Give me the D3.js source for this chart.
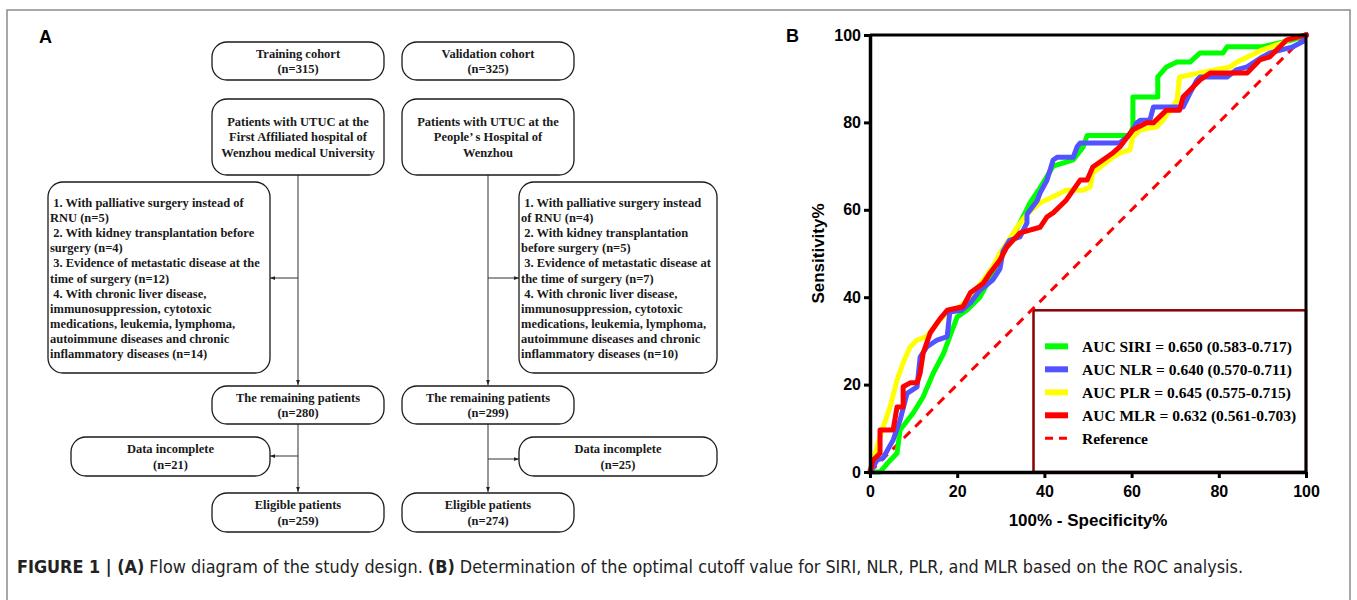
<!DOCTYPE html>
<html>
<head>
<meta charset="utf-8">
<script src="https://cdn.jsdelivr.net/npm/d3@7"></script>
<style>
  body { margin: 0; background: #fff; }
  .flow { font-family: "Liberation Serif", "Times New Roman", serif; font-weight: bold; font-size: 12.5px; fill: #1a1a1a; white-space: pre; }
  .tick text { font-family: "Liberation Sans", Arial, sans-serif; font-weight: bold; font-size: 16px; fill: #000; }
</style>
</head>
<body>
<svg id="fig" width="1357" height="600"></svg>
<script>
// ROC curve points, [100% - specificity, sensitivity]
const siriPoints = [[0,0],[2.3,0],[4,2],[6.2,4.3],[6.9,9.6],[9.9,13.5],[12.2,17.2],[14.5,22.6],[16.8,27],[18.3,31],[20,35.5],[22.2,37],[25.2,40],[28.2,45.5],[29.8,50],[32,53],[34.4,57],[36.7,61.6],[39,65],[42,70],[46.6,71.4],[48.9,74.4],[49.8,77],[59.6,77],[60.3,79],[60.3,85.8],[66,85.8],[66,90.4],[68,92.7],[70.4,93.8],[73.4,93.8],[75.7,95.9],[81,95.9],[81.9,97.3],[90,97.3],[97,98.9],[100,100]];
const nlrPoints = [[0,0],[1.6,2.7],[3,3.2],[5.3,7.3],[6.9,11.9],[8.5,18],[10.8,19.5],[11.5,26.3],[13,28.6],[15.4,30.2],[17.7,31],[18.3,36.6],[21,37],[23,38.7],[25.2,41.6],[28.2,44],[29.8,46.5],[30.5,50.5],[32,53],[34.4,53.8],[36,57],[36,59],[38.3,62],[39,63.8],[40.6,66.8],[42,71.4],[42.9,72],[46.6,72],[47.5,74.4],[48.2,75.3],[57.3,75.3],[59,76.7],[60.3,78.3],[61.2,79.9],[62,80.5],[64.2,80.5],[65,83.5],[71.8,83.5],[73.4,86.7],[75,89.7],[75.7,90.4],[81.9,90.4],[84,92],[86.5,92.7],[90,95],[91.7,95.9],[97,97.3],[99.3,98.5],[100,100]];
const plrPoints = [[0,0],[1.6,5.7],[3,10.3],[4.6,14.9],[6.2,21],[7.6,25],[9.2,28.6],[10.8,30.2],[13,31],[15.4,34],[17.7,36.6],[20.6,37.8],[23,40],[26,44],[28.2,47],[29.8,50],[31.4,52.4],[33.7,56],[36,59],[39,61.6],[42,63],[45,64.5],[48.9,64.5],[50.5,65.2],[51.1,68.4],[52.8,69.8],[55.7,72],[57.3,73],[59.6,73.7],[60.3,76.7],[62,78.3],[65.8,79],[67.2,80.5],[68.8,82.8],[70.4,85],[71,90.4],[73,90.8],[82.6,92.7],[84.2,93.8],[90,96.6],[94.7,98.2],[97,99.5],[100,100]];
const mlrPoints = [[0,0],[0.7,2.7],[2.3,4.3],[2.3,9.6],[5.3,9.6],[6.2,14.9],[7.6,14.9],[7.6,19.5],[9.2,20.4],[10.8,20.4],[11.5,22.6],[12.2,27.2],[13.8,31.8],[16,35],[17.7,37],[21.3,37.8],[23,41],[26,43.2],[27.5,45.5],[29.8,48.5],[31.4,51.5],[32.8,53],[34.4,54.7],[39,56],[40.6,58.4],[42,59.3],[45,62.2],[48.2,66.8],[49.8,66.8],[51.1,69.8],[55.7,73],[57.3,74.4],[60.3,78.3],[63.5,79.9],[65,79.9],[68,82.8],[71,82.8],[71.8,85.8],[73.4,87.4],[75.7,89.7],[78,91.3],[86.5,91.3],[89.4,94.3],[91.7,95],[95.6,98.9],[98,99.5],[100,100]];
const referencePoints = [[0,0],[100,100]];

const legendLabels = ["AUC SIRI = 0.650 (0.583-0.717)", "AUC NLR = 0.640 (0.570-0.711)",
    "AUC PLR = 0.645 (0.575-0.715)", "AUC MLR = 0.632 (0.561-0.703)", "Reference"];
const tickValues = [0, 20, 40, 60, 80, 100];

// Flow diagram texts
const trainingTexts = {
    cohort: ["Training cohort", "(n=315)"],
    source: ["Patients with UTUC at the", "First Affiliated hospital of", "Wenzhou medical University"],
    excluded: [" 1. With palliative surgery instead of", "RNU (n=5)", " 2. With kidney transplantation before",
        "surgery (n=4)", " 3. Evidence of metastatic disease at the", "time of surgery (n=12)",
        " 4. With chronic liver disease,", "immunosuppression, cytotoxic", "medications, leukemia, lymphoma,",
        "autoimmune diseases and chronic", "inflammatory diseases (n=14)"],
    remaining: ["The remaining patients", "(n=280)"],
    incomplete: ["Data incomplete", "(n=21)"],
    eligible: ["Eligible patients", "(n=259)"]
};
const validationTexts = {
    cohort: ["Validation cohort", "(n=325)"],
    source: ["Patients with UTUC at the", "People’ s Hospital of", "Wenzhou"],
    excluded: [" 1. With palliative surgery instead", "of RNU (n=4)", " 2. With kidney transplantation",
        "before surgery (n=5)", " 3. Evidence of metastatic disease at", "the time of surgery (n=7)",
        " 4. With chronic liver disease,", "immunosuppression, cytotoxic", "medications, leukemia, lymphoma,",
        "autoimmune diseases and chronic", "inflammatory diseases (n=10)"],
    remaining: ["The remaining patients", "(n=299)"],
    incomplete: ["Data incomplete", "(n=25)"],
    eligible: ["Eligible patients", "(n=274)"]
};

const svg = d3.select('#fig');
svg.append('rect').attr('width', 1357).attr('height', 600).attr('fill', '#fff');

// outer frame
svg.append('path')
    .attr('d', 'M7,602 L7,10 L1350,10 L1350,602')
    .attr('fill', 'none').attr('stroke', '#8c8c8c').attr('stroke-width', 1.5);

const sans = '"Liberation Sans", Arial, sans-serif';
svg.append('text').attr('x', 39).attr('y', 43).text('A')
    .style('font-family', sans).style('font-weight', 'bold').style('font-size', '18px');
svg.append('text').attr('x', 786).attr('y', 42).text('B')
    .style('font-family', sans).style('font-weight', 'bold').style('font-size', '18px');

// ---------- Panel A: flow diagram ----------
svg.append('defs').append('marker')
    .attr('id', 'arrow').attr('viewBox', '0 0 8 8').attr('refX', 8).attr('refY', 4)
    .attr('markerWidth', 5).attr('markerHeight', 5).attr('orient', 'auto')
    .append('path').attr('d', 'M0,1 L8,4 L0,7 Z').attr('fill', '#222');

const flow = svg.append('g');

function box(x, y, w, h, lines, align) {
    flow.append('rect')
        .attr('x', x).attr('y', y).attr('width', w).attr('height', h)
        .attr('rx', 15).attr('ry', 15)
        .attr('fill', '#fff').attr('stroke', '#1a1a1a').attr('stroke-width', 1.3);
    const lh = align === 'left' ? 15.1 : 15.5;
    const t = flow.append('text').attr('class', 'flow');
    if (align === 'left') {
        lines.forEach((l, i) => {
            t.append('tspan').attr('x', x + 2).attr('y', y + 25 + i * lh).text(l);
        });
    } else {
        const y0 = y + h / 2 - (lines.length - 1) * lh / 2 + 4.3;
        t.attr('text-anchor', 'middle');
        lines.forEach((l, i) => {
            t.append('tspan').attr('x', x + w / 2).attr('y', y0 + i * lh).text(l);
        });
    }
}

function link(x1, y1, x2, y2, arrow) {
    const ln = flow.append('line')
        .attr('x1', x1).attr('y1', y1).attr('x2', x2).attr('y2', y2)
        .attr('stroke', '#333').attr('stroke-width', 1);
    if (arrow) ln.attr('marker-end', 'url(#arrow)');
}

function column(texts, cx, exclX, exclW, incX, incW, side) {
    const bx = cx - 86, bw = 172;
    const dir = side === 'left' ? exclX + exclW : exclX;
    link(cx, 175, cx, 385, true);
    link(cx, 278, dir, 278, true);
    link(cx, 424, cx, 492, true);
    const incY = side === 'left' ? 456 : 459;
    link(cx, incY, side === 'left' ? incX + incW : incX, incY, true);
    box(bx, 42, bw, 38, texts.cohort);
    box(bx, 99, bw, 76, texts.source);
    box(exclX, 182, exclW, 191, texts.excluded, 'left');
    box(bx, 386, bw, 38, texts.remaining);
    box(incX, 437, incW, 39, texts.incomplete);
    box(bx, 493, bw, 39, texts.eligible);
}

column(trainingTexts, 298, 48, 222, 71, 199, 'left');
column(validationTexts, 488, 519, 198, 519, 198, 'right');

// ---------- Panel B: ROC curves ----------
const x = d3.scaleLinear().domain([0, 100]).range([870, 1306]);
const y = d3.scaleLinear().domain([0, 100]).range([472, 35]);

const plot = svg.append('g');
const line = d3.line().x(d => x(d[0])).y(d => y(d[1]));

// legend frame
plot.append('rect')
    .attr('x', x(37.5)).attr('y', y(37))
    .attr('width', x(100) - x(37.5)).attr('height', y(0) - y(37))
    .attr('fill', 'none').attr('stroke', '#8b0000').attr('stroke-width', 2.5);

plot.append('path').datum(referencePoints)
    .attr('d', line).attr('fill', 'none')
    .attr('stroke', '#ff0000').attr('stroke-width', 3).attr('stroke-dasharray', '9,7');

const series = [
    { pts: siriPoints, color: '#00ff00' },
    { pts: plrPoints, color: '#ffff00' },
    { pts: nlrPoints, color: '#5252ff' },
    { pts: mlrPoints, color: '#ff0000' }
];
series.forEach(s => {
    plot.append('path').datum(s.pts)
        .attr('d', line).attr('fill', 'none')
        .attr('stroke', s.color).attr('stroke-width', 5)
        .attr('stroke-linejoin', 'round').attr('stroke-linecap', 'square');
});

// top and right frame of the plot
plot.append('path')
    .attr('d', `M${x(0)},${y(100)} L${x(100)},${y(100)} L${x(100)},${y(0)}`)
    .attr('fill', 'none').attr('stroke', '#000').attr('stroke-width', 3);

const yAxis = plot.append('g').attr('transform', `translate(${x(0)},0)`)
    .call(d3.axisLeft(y).tickValues(tickValues).tickSize(6).tickSizeOuter(0).tickPadding(3));
const xAxis = plot.append('g').attr('transform', `translate(0,${y(0)})`)
    .call(d3.axisBottom(x).tickValues(tickValues).tickSize(6).tickSizeOuter(0).tickPadding(8));
[xAxis, yAxis].forEach(a => {
    a.select('.domain').attr('stroke', '#000').attr('stroke-width', 3.5);
    a.selectAll('.tick line').attr('stroke', '#000').attr('stroke-width', 3);
});

plot.append('text')
    .attr('transform', `translate(818,${(y(0) + y(100)) / 2}) rotate(-90)`)
    .attr('text-anchor', 'middle').attr('dy', '0.35em')
    .style('font-family', sans).style('font-weight', 'bold').style('font-size', '17px')
    .text('Sensitivity%');
plot.append('text')
    .attr('x', (x(0) + x(100)) / 2).attr('y', 526).attr('text-anchor', 'middle')
    .style('font-family', sans).style('font-weight', 'bold').style('font-size', '17px')
    .text('100% - Specificity%');

// legend entries
const legendColors = ['#00ff00', '#5252ff', '#ffff00', '#ff0000', '#ff0000'];
legendLabels.forEach((lab, i) => {
    const ly = y(37) + 36 + i * 23;
    plot.append('line')
        .attr('x1', 1045).attr('x2', 1068).attr('y1', ly).attr('y2', ly)
        .attr('stroke', legendColors[i]).attr('stroke-width', i === 4 ? 3 : 6)
        .attr('stroke-dasharray', i === 4 ? '8,6' : null);
    plot.append('text')
        .attr('x', 1082).attr('y', ly).attr('dy', '0.35em')
        .style('font-family', '"Liberation Serif", "Times New Roman", serif')
        .style('font-weight', 'bold').style('font-size', '15.5px')
        .text(lab);
});

// caption
const cap = svg.append('text').attr('x', 17).attr('y', 573)
    .attr('textLength', 1226).attr('lengthAdjust', 'spacingAndGlyphs')
    .style('font-family', '"DejaVu Sans Condensed", "Liberation Sans Narrow", "Liberation Sans", sans-serif')
    .style('font-size', '17px').style('fill', '#222');
cap.append('tspan').style('font-weight', 'bold').text('FIGURE 1 | (A)');
cap.append('tspan').text(' Flow diagram of the study design. ');
cap.append('tspan').style('font-weight', 'bold').text('(B)');
cap.append('tspan').text(' Determination of the optimal cutoff value for SIRI, NLR, PLR, and MLR based on the ROC analysis.');
</script>
</body>
</html>
